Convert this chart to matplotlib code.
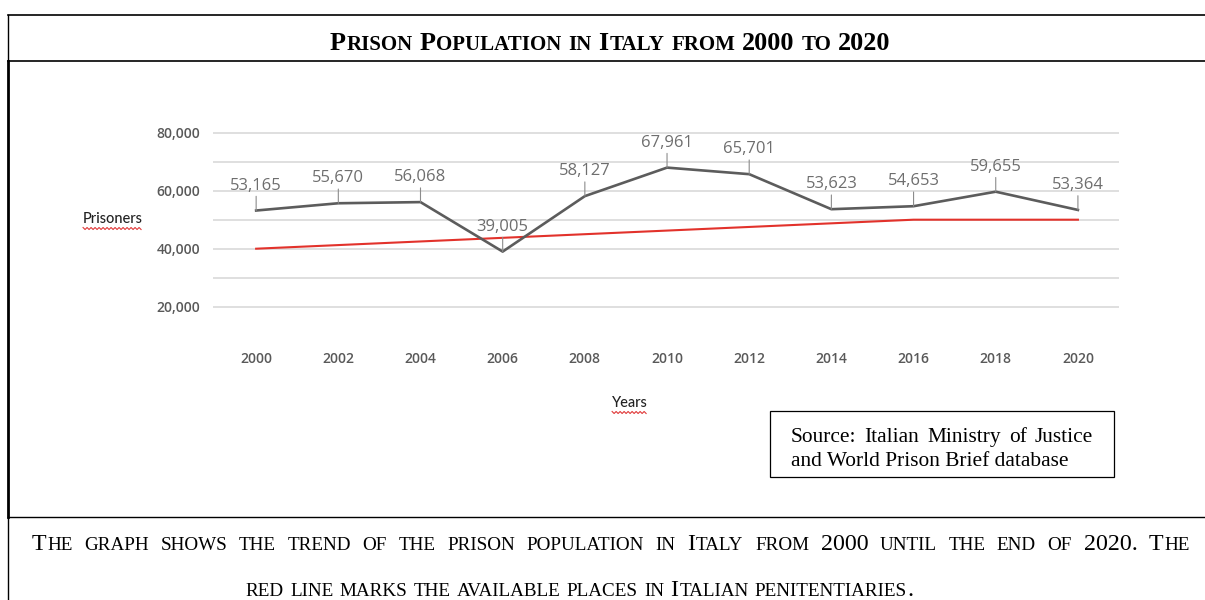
import numpy as np
import matplotlib.pyplot as plt
from matplotlib.lines import Line2D
from matplotlib.patches import Rectangle

years = [2000, 2002, 2004, 2006, 2008, 2010, 2012, 2014, 2016, 2018, 2020]
prisoners = [53165, 55670, 56068, 39005, 58127, 67961, 65701, 53623, 54653, 59655, 53364]

# available places (red line)
place_years = [2000, 2016, 2020]
places = [40000, 50000, 50000]

y_ticks = [20000, 30000, 40000, 50000, 60000, 70000, 80000]
y_labels = ['20,000', '', '40,000', '', '60,000', '', '80,000']

title = "Prison Population in Italy from 2000 to 2020"
caption = ["The graph shows the trend of the prison population in Italy from 2000 until the end of 2020. The",
           "red line marks the available places in Italian penitentiaries."]
source = ["Source: Italian Ministry of Justice", "and World Prison Brief database"]

W, H = 1205, 600
PX = 100 / 72
fig = plt.figure(figsize=(W / 100, H / 100), dpi=100)


def fx(px):
    return np.asarray(px) / W


def fy(py):
    return 1 - np.asarray(py) / H


def hline(y, x0, x1, lw):
    fig.add_artist(Line2D([fx(x0), fx(x1)], [fy(y), fy(y)], color='black', lw=lw))


def vline(x, y0, y1, lw):
    fig.add_artist(Line2D([fx(x), fx(x)], [fy(y0), fy(y1)], color='black', lw=lw))


# table frame
hline(15, 8, W, 1.2)
hline(61, 8, W, 1.2)
hline(517, 8, W, 1.0)
vline(8, 15, 61, 1.0)
vline(8, 61, 517, 2.0)
vline(8, 517, H, 1.0)


def text_width(s, size, **kw):
    t = fig.text(0, 0, s, fontsize=size, **kw)
    w = t.get_window_extent(fig.canvas.get_renderer()).width
    t.remove()
    return w


def caps_words(sentence):
    words = []
    for w in sentence.split(' '):
        runs = []
        for ch in w:
            small = ch.islower()
            if runs and runs[-1][1] == small:
                runs[-1][0] += ch.upper()
            else:
                runs.append([ch.upper(), small])
        words.append(runs)
    return words


def caps_layout(words, big, small, **kw):
    widths = [[text_width(s, small if sm else big, **kw) for s, sm in runs] for runs in words]
    gap = 0.05 * small * PX
    space = 0.26 * big * PX
    total = sum(sum(ws) + gap * (len(ws) - 1) for ws in widths) + space * (len(words) - 1)
    return widths, gap, space, total


def caps_line(sentence, xc, yb, big, ratio=0.8, width=None, justify=None, **kw):
    words = caps_words(sentence)
    if width is not None:
        total = caps_layout(words, big, big * ratio, **kw)[3]
        big = big * width / total
    small = big * ratio
    widths, gap, space, total = caps_layout(words, big, small, **kw)
    if justify is not None:
        space += (justify - total) / (len(words) - 1)
        total = justify
    x = xc - total / 2
    for runs, ws in zip(words, widths):
        for i, ((s, sm), w) in enumerate(zip(runs, ws)):
            if i > 0 and s[0] in '.,':
                x -= gap * 0.6
            fig.text(fx(x), fy(yb), s, fontsize=small if sm else big,
                     ha='left', va='baseline', **kw)
            x += w + gap
        x += space - gap
    return big


serif = 'Liberation Serif'
caps_line(title, 610, 50, 14, width=560, family=serif, weight='bold')
size = caps_line(caption[1], 580, 596, 14, width=672, family=serif)
caps_line(caption[0], 611, 550, size, justify=1158, family=serif)

# chart
ax = fig.add_axes([fx(213), fy(335.7), (1119 - 213) / W, (335.7 - 118.2) / H])
ax.set_xlim(1998.95, 2021)
ax.set_ylim(10000, 85000)
ax.plot(place_years, places, color='#e2322b', lw=1.5, zorder=3)
ax.plot(years, prisoners, color='#5c5c5c', lw=1.9, zorder=4)

for yr, v in zip(years, prisoners):
    ax.annotate(f"{v:,}", xy=(yr, v), xytext=(0, 18), textcoords='offset points',
                ha='center', va='center', fontsize=12, family='Open Sans', color='#6e6e6e',
                arrowprops=dict(arrowstyle='-', color='#8c8c8c', lw=0.8, shrinkA=0, shrinkB=0),
                zorder=5)

ax.set_yticks(y_ticks, y_labels)
ax.set_xticks(years, [str(y) for y in years])
ax.grid(axis='y', color='#d9d9d9', lw=1.2)
ax.set_axisbelow(True)
ax.tick_params(length=0, labelsize=10, labelcolor='#595959')
ax.tick_params(axis='x', pad=12)
ax.tick_params(axis='y', pad=9)
for lab in ax.get_xticklabels() + ax.get_yticklabels():
    lab.set_family('Open Sans')
    lab.set_weight('semibold')
for sp in ax.spines.values():
    sp.set_visible(False)


def squiggle(t):
    bb = t.get_window_extent(fig.canvas.get_renderer())
    xs = np.arange(bb.x0, bb.x1 + 0.1, 2.0)
    ys = bb.y0 - 2.5 + np.where(np.arange(len(xs)) % 2 == 0, 1.0, -1.0)
    fig.add_artist(Line2D(xs / W, ys / H, color='#e03a3a', lw=0.8))


t1 = fig.text(fx(113), fy(219), 'Prisoners', ha='center', va='center',
              fontsize=10.5, family='Lato', weight='medium', color='#222222')
t2 = fig.text(fx(630), fy(403), 'Years', ha='center', va='center',
              fontsize=10.5, family='Lato', weight='medium', color='#222222')
squiggle(t1)
squiggle(t2)

# source box
fig.add_artist(Rectangle((fx(770), fy(477)), (1114 - 770) / W, (477 - 411) / H,
                         fill=False, edgecolor='black', lw=0.9))
src_size = 13.5 * 278 / text_width(source[1], 13.5, family=serif)
words = source[0].split(' ')
ws = [text_width(w, src_size, family=serif) for w in words]
gap = (1093 - 791 - sum(ws)) / (len(words) - 1)
x = 791
for w, wd in zip(words, ws):
    fig.text(fx(x), fy(442), w, fontsize=src_size, family=serif, va='baseline')
    x += wd + gap
fig.text(fx(791), fy(466), source[1], fontsize=src_size, family=serif, va='baseline')

fig.savefig('out.png', dpi=100)
